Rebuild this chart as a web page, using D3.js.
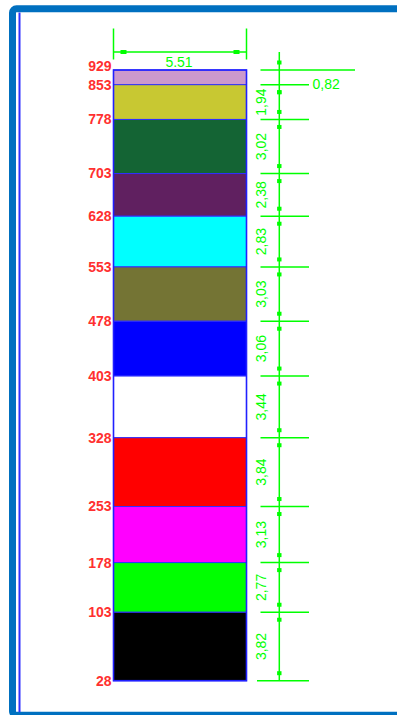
<!DOCTYPE html>
<html>
<head>
<meta charset="utf-8">
<script src="https://cdn.jsdelivr.net/npm/d3@7"></script>
<style>
  html, body { margin: 0; padding: 0; background: #fff; }
  svg { display: block; }
</style>
</head>
<body>
<script>
// depth marks at layer boundaries, top to bottom
var depthLabels = [929, 853, 778, 703, 628, 553, 478, 403, 328, 253, 178, 103, 28];
// layer thickness, top to bottom
var thickness = [0.82, 1.94, 3.02, 2.38, 2.83, 3.03, 3.06, 3.44, 3.84, 3.13, 2.77, 3.82];
var layerColors = ['#cc99cc', '#c8c832', '#146434', '#602060', '#00ffff', '#747434',
                   '#0000ff', '#ffffff', '#ff0000', '#ff00ff', '#00ff00', '#000000'];
var columnWidth = 5.51;

var width = 397,
    height = 715;

var green = '#00ff00',
    font = 'Liberation Sans, Arial, sans-serif';

var svg = d3.select('body').append('svg')
    .attr('width', width)
    .attr('height', height);

// frame
svg.append('rect')
    .attr('x', 12.5).attr('y', 8.8)
    .attr('width', 500).attr('height', 706.4)
    .attr('rx', 4)
    .attr('fill', 'none')
    .attr('stroke', '#0070c0')
    .attr('stroke-width', 7);

svg.append('line')
    .attr('x1', 19.5).attr('x2', 19.5)
    .attr('y1', 12.5).attr('y2', 712)
    .attr('stroke', '#3030ff')
    .attr('stroke-width', 2);

// cumulative boundaries
var cum = [0];
thickness.forEach(function(t, i) { cum.push(cum[i] + t); });
var total = cum[cum.length - 1];

var y = d3.scaleLinear()
    .domain([0, total])
    .range([70, 680.7]);

var x = d3.scaleLinear()
    .domain([0, columnWidth])
    .range([113.5, 246.5]);

var layers = thickness.map(function(t, i) {
    return { t: t, top: cum[i], bottom: cum[i + 1], color: layerColors[i] };
});

// column
var column = svg.append('g');

column.selectAll('.layer')
    .data(layers)
    .enter().append('rect')
        .attr('class', 'layer')
        .attr('x', x(0))
        .attr('y', function(d) { return y(d.top); })
        .attr('width', x(columnWidth) - x(0))
        .attr('height', function(d) { return y(d.bottom) - y(d.top); })
        .attr('fill', function(d) { return d.color; })
        .attr('stroke', '#3030ff')
        .attr('stroke-width', 1);

column.append('rect')
    .attr('x', x(0))
    .attr('y', y(0))
    .attr('width', x(columnWidth) - x(0))
    .attr('height', y(total) - y(0))
    .attr('fill', 'none')
    .attr('stroke', '#2020ff')
    .attr('stroke-width', 1.6);

// depth labels (top one nudged up so it clears the next)
svg.selectAll('.depth')
    .data(depthLabels)
    .enter().append('text')
        .attr('class', 'depth')
        .attr('x', x(0) - 2)
        .attr('y', function(d, i) { return y(cum[i]) - (i === 0 ? 3.5 : 0); })
        .attr('dy', '0.35em')
        .attr('text-anchor', 'end')
        .attr('font-family', font)
        .attr('font-weight', 'bold')
        .attr('font-size', 14)
        .attr('fill', '#ff3030')
        .text(function(d) { return d; });

// top width dimension
var topDim = svg.append('g').attr('stroke', green).attr('fill', green);

[0, columnWidth].forEach(function(v) {
    topDim.append('line')
        .attr('x1', x(v)).attr('x2', x(v))
        .attr('y1', 28.5).attr('y2', 59.5)
        .attr('stroke-width', 1.5);
});

topDim.append('line')
    .attr('x1', x(0)).attr('x2', x(columnWidth))
    .attr('y1', 52).attr('y2', 52)
    .attr('stroke-width', 1.5);

topDim.append('rect').attr('x', x(0) + 7).attr('y', 50).attr('width', 6).attr('height', 4).attr('stroke', 'none');
topDim.append('rect').attr('x', x(columnWidth) - 13).attr('y', 50).attr('width', 6).attr('height', 4).attr('stroke', 'none');

svg.append('text')
    .attr('x', (x(0) + x(columnWidth)) / 2 - 1)
    .attr('y', 66.5)
    .attr('text-anchor', 'middle')
    .attr('font-family', font)
    .attr('font-size', 14)
    .attr('fill', green)
    .text(d3.format('.2f')(columnWidth));

// right thickness dimension
var dimX = 279.3,
    inset = 7.5,
    fmt = function(v) { return d3.format('.2f')(v).replace('.', ','); };

var rightDim = svg.append('g');

rightDim.append('line')
    .attr('x1', dimX).attr('x2', dimX)
    .attr('y1', 52).attr('y2', y(total))
    .attr('stroke', green)
    .attr('stroke-width', 1.5);

// tick lines at boundaries
rightDim.selectAll('.tick')
    .data(cum)
    .enter().append('line')
        .attr('class', 'tick')
        .attr('x1', function(d, i) { return i === cum.length - 1 ? 257 : 260.5; })
        .attr('x2', function(d, i) { return i === 0 ? 355 : 309; })
        .attr('y1', function(d) { return y(d); })
        .attr('y2', function(d) { return y(d); })
        .attr('stroke', green)
        .attr('stroke-width', 1.5);

// markers
var markers = [];
layers.forEach(function(d) {
    var y0 = y(d.top), y1 = y(d.bottom);
    if (y1 - y0 < 30) {
        markers.push(y0 - inset, y1 + inset);
    } else {
        markers.push(y0 + inset, y1 - inset);
    }
});

rightDim.selectAll('.marker')
    .data(markers)
    .enter().append('rect')
        .attr('class', 'marker')
        .attr('x', dimX - 2.2)
        .attr('y', function(d) { return d - 2; })
        .attr('width', 4.4)
        .attr('height', 4)
        .attr('fill', green);

// labels
layers.forEach(function(d) {
    var y0 = y(d.top), y1 = y(d.bottom);
    if (y1 - y0 < 30) {
        rightDim.append('text')
            .attr('x', 312.5)
            .attr('y', y1)
            .attr('dy', '0.32em')
            .attr('font-family', font)
            .attr('font-size', 14)
            .attr('fill', green)
            .text(fmt(d.t));
    } else {
        var cy = (y0 + y1) / 2;
        rightDim.append('text')
            .attr('transform', 'translate(266,' + cy + ') rotate(-90)')
            .attr('text-anchor', 'middle')
            .attr('font-family', font)
            .attr('font-size', 14)
            .attr('fill', green)
            .text(fmt(d.t));
    }
});
</script>
</body>
</html>
